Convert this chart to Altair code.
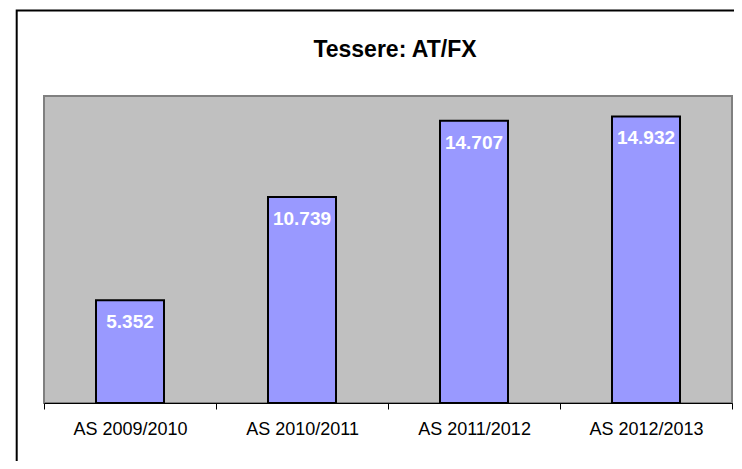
import altair as alt
import pandas as pd

categories = ["AS 2009/2010", "AS 2010/2011", "AS 2011/2012", "AS 2012/2013"]
values = [5352, 10739, 14707, 14932]
labels = [f"{v:,}".replace(",", ".") for v in values]

df = pd.DataFrame({"cat": categories, "val": values, "lab": labels})

FONT = "Liberation Sans"

x = alt.X("cat:N", sort=None, title=None,
          scale=alt.Scale(paddingInner=0, paddingOuter=0),
          axis=alt.Axis(labelAngle=0, labelFontSize=18, labelFont=FONT, labelColor="black",
                        domainColor="black", domainWidth=1, tickColor="black", tickSize=6,
                        tickWidth=1, tickBand="extent", labelPadding=11, grid=False))
y = alt.Y("val:Q", title=None, scale=alt.Scale(domain=[0, 16000], nice=False), axis=None)

bars = alt.Chart(df).mark_bar(size=68, fill="#9999FF", stroke="black", strokeWidth=2).encode(x=x, y=y)

text = alt.Chart(df).mark_text(baseline="alphabetic", align="center", dy=28, font=FONT,
                               fontSize=19, fontWeight="bold", color="white").encode(
    x=alt.X("cat:N", sort=None), y=alt.Y("val:Q"), text="lab:N")

frame = alt.Chart(pd.DataFrame({"a": [0]})).mark_rect(
    fill="white", fillOpacity=0, stroke="black", strokeWidth=2).encode(
    x=alt.value(-27.3), x2=alt.value(1000), y=alt.value(-85.5), y2=alt.value(1000))

chart = alt.layer(frame, bars, text).properties(
    width=688, height=307,
    title=alt.TitleParams("Tessere: AT/FX", font=FONT, fontSize=23, fontWeight="bold",
                          color="black", anchor="middle", baseline="alphabetic",
                          offset=-70, dx=7),
    autosize=alt.AutoSizeParams(type="none"),
    padding={"left": 36, "top": 88, "right": 2, "bottom": 58},
    background="white",
).configure_view(
    fill="#C0C0C0", stroke="#808080", strokeWidth=2
)

chart.save("out.html", embed_options={"renderer": "svg", "actions": False})
